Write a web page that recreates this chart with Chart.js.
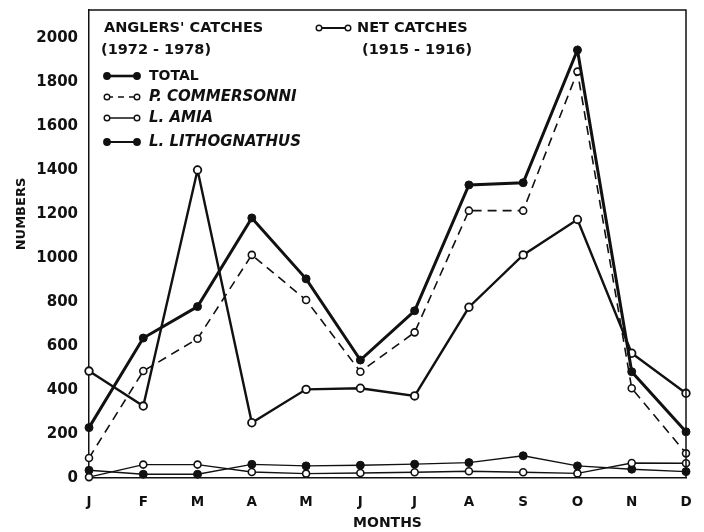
<!DOCTYPE html>
<html>
<head>
<meta charset="utf-8">
<script src="https://cdn.jsdelivr.net/npm/chart.js@4.4.1/dist/chart.umd.min.js"></script>
<style>
  html, body { margin: 0; padding: 0; background: #fff; }
  #wrap { width: 704px; height: 532px; position: relative; }
</style>
</head>
<body>
<div id="wrap"><canvas id="c" width="704" height="532"></canvas></div>
<script>
// ---- data ----
const months = ['J', 'F', 'M', 'A', 'M', 'J', 'J', 'A', 'S', 'O', 'N', 'D'];
const total = [229, 636, 779, 1182, 905, 536, 760, 1332, 1342, 1945, 483, 210];
const pCommersonni = [91, 486, 633, 1014, 809, 483, 662, 1215, 1215, 1847, 408, 112];
const netCatches = [486, 327, 1400, 251, 403, 408, 373, 776, 1014, 1175, 567, 385];
const lAmia = [4, 61, 61, 27, 20, 23, 26, 31, 26, 21, 68, 67];
const lLithognathus = [35, 17, 17, 62, 55, 58, 63, 70, 101, 55, 40, 29];
const yTicks = [0, 200, 400, 600, 800, 1000, 1200, 1400, 1600, 1800, 2000];

const INK = '#111';
const FONT = '"DejaVu Sans", sans-serif';

function ds(label, data, opts) {
  return Object.assign({
    label, data,
    borderColor: INK,
    pointBorderColor: INK,
    tension: 0,
    fill: false,
    clip: false
  }, opts);
}

const datasets = [
  ds('TOTAL', total, { borderWidth: 3, pointRadius: 4, pointBackgroundColor: INK, pointBorderWidth: 1 }),
  ds('P. COMMERSONNI', pCommersonni, { borderWidth: 1.6, borderDash: [9, 6], pointRadius: 3.5, pointBackgroundColor: '#fff', pointBorderWidth: 1.6 }),
  ds('NET CATCHES', netCatches, { borderWidth: 2.4, pointRadius: 3.8, pointBackgroundColor: '#fff', pointBorderWidth: 1.8 }),
  ds('L. AMIA', lAmia, { borderWidth: 1.4, pointRadius: 3.5, pointBackgroundColor: '#fff', pointBorderWidth: 1.6 }),
  ds('L. LITHOGNATHUS', lLithognathus, { borderWidth: 1.4, pointRadius: 4, pointBackgroundColor: INK, pointBorderWidth: 1 })
];

// custom legend / titles / frame
const annot = {
  id: 'annot',
  afterDraw(chart) {
    const ctx = chart.ctx;
    const a = chart.chartArea;
    ctx.save();
    // frame top and right
    ctx.strokeStyle = INK;
    ctx.lineWidth = 1.5;
    ctx.beginPath();
    ctx.moveTo(a.left, a.top);
    ctx.lineTo(a.right, a.top);
    ctx.lineTo(a.right, a.bottom);
    ctx.stroke();

    ctx.fillStyle = INK;
    ctx.textBaseline = 'middle';
    ctx.textAlign = 'left';
    ctx.font = 'bold 14.5px ' + FONT;
    ctx.fillText("ANGLERS' CATCHES", 104, 28);
    ctx.fillText('(1972 - 1978)', 101, 50);
    ctx.fillText('NET CATCHES', 357, 28);
    ctx.fillText('(1915 - 1916)', 362, 50);

    function sample(x1, x2, y, filled, dash, lw) {
      ctx.save();
      ctx.lineWidth = lw;
      ctx.setLineDash(dash || []);
      ctx.beginPath();
      ctx.moveTo(x1, y); ctx.lineTo(x2, y); ctx.stroke();
      ctx.setLineDash([]);
      [x1, x2].forEach(x => {
        ctx.beginPath();
        ctx.arc(x, y, filled ? 3.2 : 2.8, 0, Math.PI * 2);
        ctx.fillStyle = filled ? INK : '#fff';
        ctx.fill();
        ctx.lineWidth = 1.4;
        ctx.stroke();
      });
      ctx.restore();
    }
    sample(319, 348, 28, false, null, 2);
    const items = [
      ['TOTAL', true, null, 2.6, false, 76],
      ['P. COMMERSONNI', false, [6, 5], 1.5, true, 97],
      ['L. AMIA', false, null, 1.5, true, 118],
      ['L. LITHOGNATHUS', true, null, 2, true, 142]
    ];
    items.forEach(([t, f, d, lw, it, y]) => {
      sample(107, 137, y, f, d, lw);
      ctx.fillStyle = INK;
      ctx.font = (it ? 'italic bold 15px ' : 'bold 14px ') + FONT;
      ctx.fillText(t, 149, y);
    });

    // axis titles
    ctx.textAlign = 'center';
    ctx.font = 'bold 14px ' + FONT;
    ctx.fillText('MONTHS', (a.left + a.right) / 2, 523);
    ctx.font = 'bold 13px ' + FONT;
    ctx.translate(22, 214);
    ctx.rotate(-Math.PI / 2);
    ctx.fillText('NUMBERS', 0, 0);
    ctx.restore();
  }
};

new Chart(document.getElementById('c'), {
  type: 'line',
  data: { labels: months, datasets },
  options: {
    responsive: false,
    animation: false,
    devicePixelRatio: 1,
    layout: { padding: { top: 10, right: 18, left: 0, bottom: 0 } },
    plugins: { legend: { display: false }, tooltip: { enabled: false } },
    scales: {
      x: {
        offset: false,
        grid: { display: false, drawTicks: true, tickLength: 8, tickWidth: 1.5, tickColor: INK },
        border: { display: true, color: INK, width: 1.5 },
        ticks: { color: INK, font: { family: FONT, size: 13.5, weight: 'bold' }, padding: 8, maxRotation: 0, autoSkip: false },
        afterFit(s) { s.height = 54; s.paddingLeft = 0; s.paddingRight = 0; }
      },
      y: {
        min: 0,
        max: 2127,
        afterBuildTicks(s) { s.ticks = yTicks.map(v => ({ value: v })); },
        grid: { display: false, drawTicks: true, tickLength: 9, tickWidth: 1.5, tickColor: INK },
        border: { display: true, color: INK, width: 1.5 },
        ticks: { color: INK, font: { family: FONT, size: 15, weight: 'bold' }, padding: 2, callback: v => String(v) },
        afterFit(s) { s.width = 89; s.paddingTop = 0; s.paddingBottom = 0; }
      }
    }
  },
  plugins: [annot]
});
</script>
</body>
</html>
